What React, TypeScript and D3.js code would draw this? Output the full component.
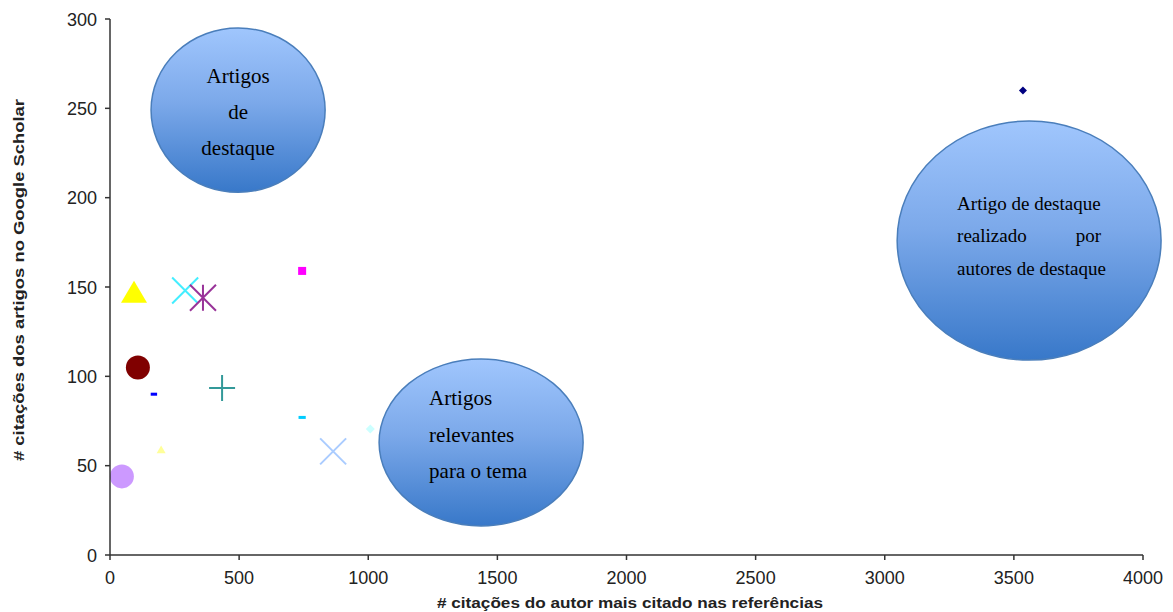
import React from "react";
import * as d3 from "d3";

const W = 1173;
const H = 612;
const margin = { left: 110, right: 30, top: 19, bottom: 57 };

const xTicks = [0, 500, 1000, 1500, 2000, 2500, 3000, 3500, 4000];
const yTicks = [0, 50, 100, 150, 200, 250, 300];

const xTitle = "# citações do autor mais citado nas referências";
const yTitle = "# citações dos artigos no Google Scholar";

// points: [x, y]
const ptX = [93, 291, 360, 744, 108, 170, 434, 744, 1008, 864, 198, 46, 3535];
const ptY = [147, 148, 144, 159, 105, 90, 93.5, 77, 70.5, 58, 59, 44, 260];
const ptShape = [
  "triangle", "x", "asterisk", "square", "circle", "dash", "plus", "dash",
  "diamond", "x", "triangle", "circle", "diamond",
];
const ptColor = [
  "#ffff00", "#44eeff", "#993399", "#ff00ff", "#800000", "#0000ff", "#339999",
  "#00ccff", "#ccffff", "#aaccff", "#ffff99", "#cc99ff", "#000080",
];
const ptSize = [13, 13, 13, 4, 12, 3.2, 13, 3.6, 4.5, 13, 4.5, 12, 4];

// annotation bubbles (data units)
const bubCx = [496, 1437, 3559];
const bubCy = [249, 63, 176];
const bubRx = [337, 395, 511];
const bubRy = [46, 46.7, 66.9];

export default function App() {
  const x = d3
    .scaleLinear()
    .domain([0, 4000])
    .range([margin.left, W - margin.right]);
  const y = d3
    .scaleLinear()
    .domain([0, 300])
    .range([H - margin.bottom, margin.top]);

  const x0 = x(0);
  const y0 = y(0);

  const drawMarker = (i: number) => {
    const cx = x(ptX[i]);
    const cy = y(ptY[i]);
    const s = ptSize[i];
    const c = ptColor[i];
    switch (ptShape[i]) {
      case "triangle":
        return (
          <path
            key={i}
            d={`M${cx},${cy - s * 0.9}L${cx + s},${cy + s * 0.8}L${cx - s},${cy + s * 0.8}Z`}
            fill={c}
          />
        );
      case "x":
        return (
          <path
            key={i}
            d={`M${cx - s},${cy - s}L${cx + s},${cy + s}M${cx - s},${cy + s}L${cx + s},${cy - s}`}
            stroke={c}
            strokeWidth={2}
            fill="none"
          />
        );
      case "asterisk":
        return (
          <path
            key={i}
            d={`M${cx - s},${cy - s}L${cx + s},${cy + s}M${cx - s},${cy + s}L${cx + s},${cy - s}M${cx},${cy - s}L${cx},${cy + s}`}
            stroke={c}
            strokeWidth={2}
            fill="none"
          />
        );
      case "plus":
        return (
          <path
            key={i}
            d={`M${cx - s},${cy}L${cx + s},${cy}M${cx},${cy - s}L${cx},${cy + s}`}
            stroke={c}
            strokeWidth={2}
            fill="none"
          />
        );
      case "square":
        return (
          <rect key={i} x={cx - s} y={cy - s} width={2 * s} height={2 * s} fill={c} />
        );
      case "circle":
        return <circle key={i} cx={cx} cy={cy} r={s} fill={c} />;
      case "dash":
        return (
          <rect key={i} x={cx - s} y={cy - 1.5} width={2 * s} height={3} fill={c} />
        );
      case "diamond":
        return (
          <path
            key={i}
            d={`M${cx},${cy - s}L${cx + s},${cy}L${cx},${cy + s}L${cx - s},${cy}Z`}
            fill={c}
          />
        );
    }
    return null;
  };

  const ell = (i: number) => ({
    cx: x(bubCx[i]),
    cy: y(bubCy[i]),
    rx: x(bubRx[i]) - x(0),
    ry: y(0) - y(bubRy[i]),
  });
  const e1 = ell(0);
  const e2 = ell(1);
  const e3 = ell(2);

  const serif = "'Liberation Serif', 'Times New Roman', serif";

  return (
    <svg width={W} height={H} style={{ position: "absolute", left: 0, top: 0, background: "#fff" }}>
      <defs>
        <linearGradient id="bub" x1="0" y1="0" x2="0" y2="1">
          <stop offset="0%" stopColor="#a0c6fd" />
          <stop offset="45%" stopColor="#7ca9ea" />
          <stop offset="100%" stopColor="#3878c9" />
        </linearGradient>
      </defs>
      <rect width={W} height={H} fill="#fff" />

      {/* markers */}
      {ptX.map((_, i) => drawMarker(i))}

      {/* bubbles */}
      {[e1, e2, e3].map((e, i) => (
        <ellipse
          key={i}
          cx={e.cx}
          cy={e.cy}
          rx={e.rx}
          ry={e.ry}
          fill="url(#bub)"
          stroke="#4a7ebb"
          strokeWidth={1.5}
        />
      ))}

      <g fontFamily={serif} fill="#000">
        <text fontSize={21} textAnchor="middle">
          <tspan x={e1.cx} y={e1.cy - 27}>Artigos</tspan>
          <tspan x={e1.cx} y={e1.cy + 9}>de</tspan>
          <tspan x={e1.cx} y={e1.cy + 45}>destaque</tspan>
        </text>
        <text fontSize={21}>
          <tspan x={e2.cx - 52} y={e2.cy - 37}>Artigos</tspan>
          <tspan x={e2.cx - 52} y={e2.cy}>relevantes</tspan>
          <tspan x={e2.cx - 52} y={e2.cy + 36}>para o tema</tspan>
        </text>
        <text fontSize={19}>
          <tspan x={e3.cx - 72} y={e3.cy - 31}>Artigo de destaque</tspan>
          <tspan x={e3.cx - 72} y={e3.cy + 1}>realizado</tspan>
          <tspan x={e3.cx + 72} y={e3.cy + 1} textAnchor="end">por</tspan>
          <tspan x={e3.cx - 72} y={e3.cy + 34}>autores de destaque</tspan>
        </text>
      </g>

      {/* axes */}
      <g stroke="#333" strokeWidth={1.5} fill="none">
        <line x1={x0} y1={y(300)} x2={x0} y2={y0} />
        <line x1={x0} y1={y0} x2={x(4000)} y2={y0} />
        {yTicks.map((t) => (
          <line key={"yt" + t} x1={x0 - 5} x2={x0} y1={y(t)} y2={y(t)} />
        ))}
        {xTicks.map((t) => (
          <line key={"xt" + t} x1={x(t)} x2={x(t)} y1={y0} y2={y0 + 5} />
        ))}
      </g>
      <g fontFamily="'Liberation Sans', Arial, sans-serif" fontSize={18} fill="#222">
        {yTicks.map((t) => (
          <text key={"yl" + t} x={x0 - 13} y={y(t) + 6.5} textAnchor="end">
            {t}
          </text>
        ))}
        {xTicks.map((t) => (
          <text key={"xl" + t} x={x(t)} y={y0 + 29} textAnchor="middle">
            {t}
          </text>
        ))}
      </g>
      <g fontFamily="'Liberation Sans', Arial, sans-serif" fontSize={14.5} fontWeight="bold" fill="#222">
        <text
          x={630}
          y={608}
          textAnchor="middle"
          textLength={386}
          lengthAdjust="spacingAndGlyphs"
        >
          {xTitle}
        </text>
        <text
          transform={`translate(24, 280) rotate(-90)`}
          textAnchor="middle"
          textLength={362}
          lengthAdjust="spacingAndGlyphs"
        >
          {yTitle}
        </text>
      </g>
    </svg>
  );
}
